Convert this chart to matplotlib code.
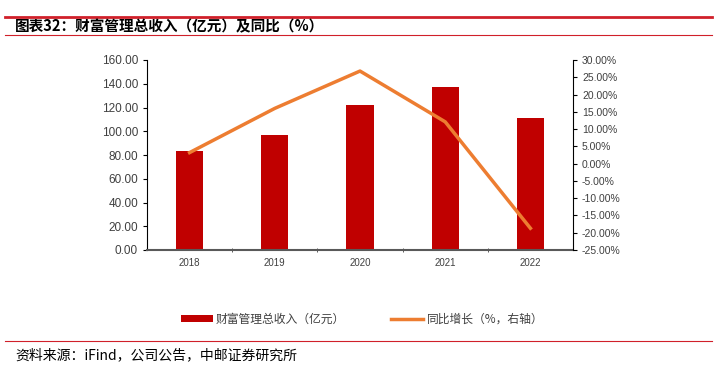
import matplotlib
matplotlib.use("Agg")
import matplotlib.pyplot as plt
from matplotlib.ticker import FuncFormatter, MultipleLocator, FixedLocator

plt.rcParams['font.family'] = ['Noto Sans CJK SC', 'DejaVu Sans']

# data
years = ["2018", "2019", "2020", "2021", "2022"]
revenue = [83.4, 96.6, 122.1, 137.3, 111.2]   # 亿元
yoy = [3.2, 16.0, 26.8, 12.1, -18.7]          # %

bar_color = "#C00000"
line_color = "#ED7D31"
text_color = "#404040"
num_font = ["Liberation Sans", "DejaVu Sans"]

fig = plt.figure(figsize=(7.21, 3.66), dpi=100)

# header / footer decorations
fig.add_artist(plt.Line2D([5 / 721, 712 / 721], [1 - 17 / 366] * 2, color="#D0202A", lw=2))
fig.add_artist(plt.Line2D([5 / 721, 712 / 721], [1 - 35 / 366] * 2, color="#D0202A", lw=0.8))
fig.add_artist(plt.Line2D([5 / 721, 712 / 721], [1 - 341 / 366] * 2, color="#D0202A", lw=0.8))
fig.text(15 / 721, 1 - 26 / 366, "图表32：财富管理总收入（亿元）及同比（%）",
         fontsize=10.5, fontweight="bold", va="center", ha="left", color="black")
fig.text(15 / 721, 1 - 355 / 366, "资料来源：iFind，公司公告，中邮证券研究所",
         fontsize=10, va="center", ha="left", color="black")

ax = fig.add_axes([147 / 721, 1 - 250 / 366, 426 / 721, 190 / 366])
x = range(len(years))
bars = ax.bar(x, revenue, width=0.32, color=bar_color, zorder=2)
ax.set_xlim(-0.5, len(years) - 0.5)
ax.set_ylim(0, 160)
ax.yaxis.set_major_locator(MultipleLocator(20))
ax.yaxis.set_major_formatter(FuncFormatter(lambda v, p: f"{v:.2f}"))
ax.set_xticks(list(x))
ax.set_xticklabels(years)
ax.xaxis.set_minor_locator(FixedLocator([i + 0.5 for i in range(len(years) - 1)]))
ax.tick_params(axis="x", which="major", length=0, labelsize=7, colors=text_color, pad=6)
ax.tick_params(axis="x", which="minor", length=3, direction="inout", color="#404040")
ax.tick_params(axis="y", labelsize=8.5, colors=text_color, length=3, color="black")
for lbl in ax.get_xticklabels() + ax.get_yticklabels():
    lbl.set_family(num_font)
for s in ["top", "right"]:
    ax.spines[s].set_visible(False)
ax.spines["bottom"].set_color("#595959")
ax.spines["bottom"].set_linewidth(1.5)
ax.spines["left"].set_color("black")
ax.spines["left"].set_linewidth(0.8)

ax2 = ax.twinx()
line, = ax2.plot(list(x), yoy, color=line_color, lw=2.5, zorder=3)
ax2.set_ylim(-25, 30)
ax2.yaxis.set_major_locator(MultipleLocator(5))
ax2.yaxis.set_major_formatter(FuncFormatter(lambda v, p: f"{v:.2f}%"))
ax2.tick_params(axis="y", labelsize=7.5, colors=text_color, length=3, color="black")
for lbl in ax2.get_yticklabels():
    lbl.set_family(num_font)
for s in ["top", "left", "bottom"]:
    ax2.spines[s].set_visible(False)
ax2.spines["right"].set_color("black")
ax2.spines["right"].set_linewidth(0.8)

fig.legend([bars, line], ["财富管理总收入（亿元）", "同比增长（%，右轴）"],
           loc="center", bbox_to_anchor=(362 / 721, 1 - 319 / 366), ncol=2,
           frameon=False, fontsize=8.5, handlelength=2.7, handleheight=0.5,
           handletextpad=0.3, columnspacing=3.9, labelcolor=text_color)

fig.savefig("out.png", dpi=100)
